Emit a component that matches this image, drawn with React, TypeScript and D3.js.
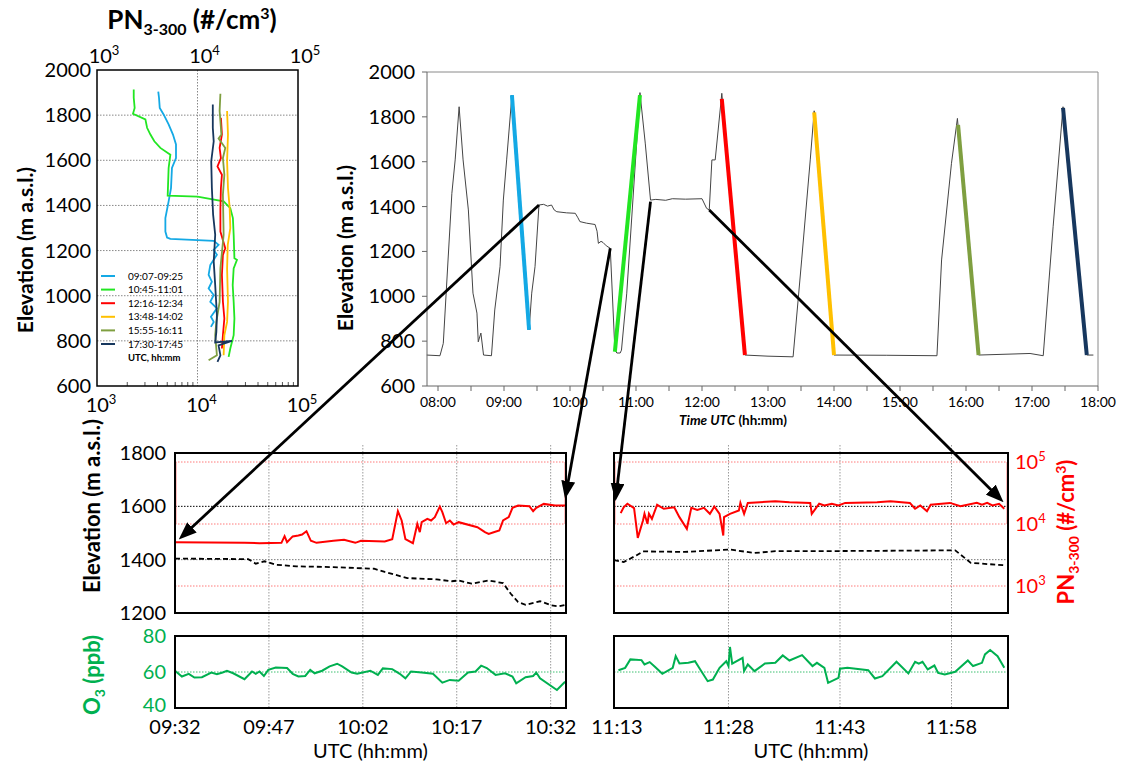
import React from "react";
import * as d3 from "d3";

const FONT = "Lato, 'Open Sans', sans-serif";

// ---------- top left: vertical PN profiles, [PN (#/cm3), elevation (m)] ----------
const profileLabels = ["09:07-09:25", "10:45-11:01", "12:16-12:34", "13:48-14:02", "15:55-16:11", "17:30-17:45"];
const profileColors = ["#14a9e5", "#22e622", "#ff0000", "#ffc000", "#7f9f40", "#17375e"];

const profile0907: [number, number][] = [
  [4070, 1904], [4140, 1877], [4210, 1832], [4600, 1803], [5160, 1759], [5700, 1714], [6110, 1670],
  [6110, 1610], [5570, 1566], [5450, 1477], [5160, 1418], [4790, 1344], [4790, 1284], [4980, 1258],
  [5370, 1252], [14500, 1243], [16200, 1225], [14500, 1203], [15600, 1181], [13400, 1136], [12900, 1092],
  [13900, 1062], [12900, 1032], [14500, 1003], [13400, 973], [15600, 944], [13600, 907], [14500, 884], [13600, 862],
];
const profile1045: [number, number][] = [
  [2320, 1914], [2320, 1877], [2370, 1832], [2280, 1806], [3030, 1781], [3150, 1744], [3400, 1714],
  [3720, 1684], [4270, 1655], [5370, 1625], [5160, 1566], [5050, 1443], [10000, 1439], [18200, 1418],
  [21200, 1388], [22500, 1344], [22900, 1270], [23300, 1166], [24700, 1159], [22900, 1121], [22400, 1047],
  [22900, 973], [23300, 899], [22900, 825], [21200, 766], [20400, 729],
];
const profile1216: [number, number][] = [
  [17100, 1788], [17500, 1714], [16600, 1655], [17100, 1610], [15800, 1573], [17500, 1536], [17100, 1477],
  [16900, 1388], [16900, 1284], [18900, 1210], [17900, 1181], [17500, 1092], [17900, 973], [18500, 899],
  [17900, 825], [17500, 766],
];
const profile1348: [number, number][] = [
  [19700, 1818], [20100, 1714], [19700, 1596], [20100, 1477], [20900, 1388], [21200, 1299], [20000, 1225],
  [19700, 1121], [20100, 973], [19700, 884], [18500, 825], [18200, 736],
];
const profile1555: [number, number][] = [
  [16900, 1895], [16600, 1818], [17300, 1714], [16200, 1696], [18900, 1655], [17900, 1610], [18500, 1536],
  [17900, 1447], [18200, 1270], [16900, 1121], [16600, 973], [15400, 884], [15000, 825], [15600, 736], [12900, 714],
];
const profile1730: [number, number][] = [
  [14200, 1847], [14200, 1744], [14500, 1684], [13700, 1596], [13900, 1477], [14300, 1359], [15000, 1270],
  [14500, 1151], [15000, 1047], [15600, 914], [15400, 840], [15000, 793], [22000, 800], [16200, 780],
  [16900, 736], [15800, 707],
];
const profiles = [profile0907, profile1045, profile1216, profile1348, profile1555, profile1730];
const profileElevTicks = [600, 800, 1000, 1200, 1400, 1600, 1800, 2000];
const profilePnExps = [3, 4, 5];

// ---------- top right: flight track, [hour UTC, elevation (m)] ----------
const flightTrack: [number, number][] = [
  [7.83, 738], [8.03, 735], [8.08, 790], [8.21, 1459], [8.26, 1608], [8.32, 1845], [8.38, 1608], [8.46, 1385],
  [8.53, 1014], [8.59, 925], [8.61, 797], [8.65, 836], [8.69, 738], [8.81, 735], [8.86, 939], [8.94, 1132],
  [8.99, 1429], [9.04, 1608], [9.12, 1897], [9.38, 850], [9.42, 1014], [9.47, 1132], [9.53, 1407], [9.6, 1410],
  [9.66, 1402], [9.72, 1407], [9.76, 1385], [9.8, 1377], [9.95, 1372], [10.08, 1370], [10.12, 1350],
  [10.15, 1333], [10.25, 1326], [10.38, 1320], [10.41, 1290], [10.43, 1236], [10.47, 1245], [10.5, 1240],
  [10.55, 1225], [10.61, 1214], [10.68, 760], [10.71, 747], [10.76, 747], [10.78, 760], [10.86, 1014],
  [11.06, 1908], [11.14, 1683], [11.22, 1429], [11.3, 1432], [11.45, 1428], [11.55, 1435], [11.75, 1433],
  [12.0, 1435], [12.07, 1392], [12.11, 1385], [12.15, 1608], [12.2, 1608], [12.3, 1905], [12.65, 738],
  [13.0, 733], [13.38, 730], [13.51, 1162], [13.64, 1608], [13.7, 1827], [14.0, 738], [14.8, 737],
  [15.56, 735], [15.63, 1162], [15.78, 1593], [15.87, 1793], [16.19, 738], [16.97, 745], [17.17, 735],
  [17.32, 1310], [17.47, 1845], [17.83, 738], [17.93, 738],
];
// coloured profile legs: [start hour, start elev, end hour, end elev]
const profileLegs: [number, number, number, number][] = [
  [9.12, 1897, 9.38, 850], [10.68, 753, 11.06, 1897], [12.3, 1880, 12.65, 738],
  [13.7, 1820, 14.0, 738], [15.88, 1764, 16.19, 738], [17.47, 1840, 17.83, 738],
];
const trackHourTicks = [8, 9, 10, 11, 12, 13, 14, 15, 16, 17, 18];
const trackElevTicks = [600, 800, 1000, 1200, 1400, 1600, 1800, 2000];

// ---------- bottom left window (minutes after 09:32) ----------
const leftTickMinutes = [0, 15, 30, 45, 60];
const leftTickLabels = ["09:32", "09:47", "10:02", "10:17", "10:32"];
const leftPN: [number, number][] = [
  [0, 5090], [11.1, 4970], [13.5, 4900], [17.0, 4970], [17.5, 6370], [17.9, 5090], [18.8, 6310], [19.7, 6530],
  [20.3, 6780], [21.0, 7660], [21.7, 5360], [22.6, 4970], [25.3, 5370], [27.0, 5560], [28.8, 4970], [29.7, 5360],
  [33.5, 5220], [34.7, 5700], [35.6, 16100], [36.2, 11400], [36.8, 5700], [38.0, 4900], [38.7, 10000],
  [39.1, 7380], [39.4, 10700], [40.3, 12100], [40.9, 11400], [41.5, 12900], [42.3, 19100], [42.7, 15500],
  [43.3, 10300], [43.9, 11400], [44.5, 9800], [45.3, 10700], [48.3, 8890], [49.5, 7380], [50.1, 6930],
  [50.9, 7380], [51.8, 7850], [52.4, 11400], [53.3, 12900], [53.9, 18200], [54.8, 19900], [56.6, 19400],
  [57.2, 16100], [57.7, 18200], [58.9, 21100], [60.7, 19900], [62.4, 19900],
];
const leftElev: [number, number][] = [
  [0, 1404], [11.7, 1402], [12.9, 1385], [14.3, 1394], [16.1, 1381], [19.4, 1375], [25.3, 1372], [31.8, 1366],
  [33.5, 1354], [37.1, 1331], [41.8, 1326], [44.2, 1319], [45.3, 1322], [47.4, 1310], [50.1, 1322],
  [52.4, 1312], [53.6, 1273], [54.8, 1241], [56.0, 1231], [58.3, 1244], [60.1, 1229], [61.3, 1225], [62.4, 1231],
];
const leftO3: [number, number][] = [
  [0, 60.7], [1.1, 57.5], [2.2, 59.0], [3.1, 56.9], [4.3, 57.1], [5.8, 59.7], [6.7, 58.8], [7.6, 59.7],
  [8.3, 60.7], [9.3, 59.3], [11.1, 56.0], [12.3, 60.3], [12.9, 59.0], [13.5, 60.3], [14.2, 57.8], [14.9, 61.2],
  [16.1, 62.5], [17.9, 62.2], [18.8, 59.0], [19.7, 57.5], [20.8, 57.8], [21.6, 61.2], [22.3, 59.3],
  [23.5, 60.7], [24.7, 63.1], [25.9, 64.6], [26.7, 63.1], [28.2, 59.7], [29.1, 59.0], [31.2, 60.7],
  [32.4, 58.4], [33.2, 62.0], [34.7, 61.6], [35.9, 59.0], [36.8, 56.5], [37.7, 60.3], [39.4, 59.7],
  [41.2, 59.0], [42.7, 54.1], [43.9, 55.6], [45.3, 55.2], [46.8, 59.7], [48.0, 60.3], [48.9, 63.5],
  [49.8, 62.2], [51.2, 58.4], [52.7, 59.3], [53.9, 57.5], [54.5, 53.7], [56.0, 57.1], [57.2, 57.8],
  [57.7, 59.7], [58.3, 56.5], [61.0, 50.0], [62.3, 54.6],
];

// ---------- bottom right window (minutes after 11:13) ----------
const rightTickMinutes = [0, 15, 30, 45];
const rightTickLabels = ["11:13", "11:28", "11:43", "11:58"];
const rightPN: [number, number][] = [
  [0.5, 15000], [0.9, 18600], [1.4, 21200], [2.3, 18000], [2.8, 5980], [3.5, 11400], [3.7, 14600],
  [4.1, 10100], [4.3, 14600], [4.7, 12100], [5.4, 20400], [6.3, 17600], [7.7, 18600], [8.4, 12900],
  [9.4, 8360], [10.0, 18200], [10.8, 16900], [11.7, 18200], [12.5, 14600], [13.1, 19100], [13.8, 14600],
  [14.3, 6530], [14.4, 12900], [15.2, 14600], [16.4, 16500], [16.6, 21900], [17.1, 14600], [17.6, 21900],
  [21.3, 23300], [23.2, 22500], [26.0, 21900], [26.2, 14600], [27.2, 21200], [27.9, 19900], [28.9, 21200],
  [29.8, 19900], [30.7, 21900], [35.0, 22500], [36.8, 23300], [39.4, 21900], [40.1, 17600], [40.8, 19900],
  [41.7, 16100], [42.2, 20400], [44.8, 21900], [46.2, 19400], [48.4, 21900], [49.1, 20400], [49.8, 21900],
  [50.5, 19900], [51.4, 21200], [52.1, 17600],
];
const rightElev: [number, number][] = [
  [-0.4, 1398], [0.9, 1391], [2.6, 1416], [3.5, 1431], [9.1, 1429], [15.2, 1438], [18.5, 1425],
  [21.3, 1432], [27.9, 1432], [45.5, 1435], [47.6, 1388], [52.1, 1379],
];
const rightO3: [number, number][] = [
  [0.2, 61.0], [1.1, 62.3], [1.8, 67.0], [3.3, 66.6], [3.7, 64.2], [4.4, 65.5], [5.1, 62.9], [6.1, 59.0],
  [7.5, 62.3], [7.9, 68.8], [8.4, 64.7], [9.6, 65.1], [10.5, 66.0], [11.2, 61.4], [12.2, 54.9], [12.9, 55.8],
  [13.8, 62.3], [14.7, 66.0], [15.0, 63.3], [15.2, 73.9], [15.5, 64.6], [16.9, 67.9], [17.1, 60.5],
  [17.6, 64.2], [18.5, 60.5], [19.9, 64.7], [21.3, 65.1], [22.3, 69.2], [23.2, 66.4], [24.9, 69.4],
  [26.3, 63.3], [26.9, 65.1], [27.9, 62.3], [28.4, 54.0], [29.8, 56.7], [30.0, 61.8], [31.0, 62.3],
  [33.8, 61.0], [34.7, 56.4], [35.7, 57.7], [37.6, 65.7], [39.2, 59.2], [40.1, 65.7], [40.6, 64.7],
  [41.1, 65.7], [41.8, 61.4], [42.7, 63.6], [43.2, 59.5], [44.1, 58.6], [45.5, 60.1], [47.2, 66.4],
  [47.9, 63.3], [49.1, 65.1], [49.5, 69.8], [50.2, 72.2], [51.2, 68.8], [52.1, 62.3],
];

const windowElevTicks = [1200, 1400, 1600, 1800];
const windowPnExps = [3, 4, 5];
const o3Ticks = [40, 60, 80];

// zoom arrows: track point [hour, elev] -> window point [minute, PN]
const zoomArrows: { from: [number, number]; side: "left" | "right"; to: [number, number] }[] = [
  { from: [9.53, 1407], side: "left", to: [0.6, 5620] },
  { from: [10.61, 1214], side: "left", to: [62.3, 25300] },
  { from: [11.22, 1422], side: "right", to: [-0.2, 23400] },
  { from: [12.11, 1385], side: "right", to: [52.0, 22400] },
];

const hhmm = (h: number) => `${String(Math.floor(h)).padStart(2, "0")}:00`;

const Pow = ({ e, sup = 13, shift = 8 }: { e: number; sup?: number; shift?: number }) => (
  <>
    10<tspan fontSize={sup} dy={-shift}>{e}</tspan>
  </>
);

export default function App() {
  // panel A
  const ax = d3.scaleLog().domain([1e3, 1e5]).range([97, 298]);
  const ay = d3.scaleLinear().domain([600, 2000]).range([386, 70]);
  const profLine = d3.line<[number, number]>().x(d => ax(d[0])).y(d => ay(d[1]));
  const minorA: number[] = [];
  [1e3, 1e4].forEach(b => { for (let k = 2; k <= 9; k++) minorA.push(b * k); });

  // panel B
  const bx = d3.scaleLinear().domain([7.8333, 18]).range([427, 1098]);
  const by = d3.scaleLinear().domain([600, 2000]).range([386, 72]);
  const trackLine = d3.line<[number, number]>().x(d => bx(d[0])).y(d => by(d[1]));
  const halfHours = d3.range(8, 18.01, 0.5);

  // bottom windows
  const cx = d3.scaleLinear().domain([0, 62.45]).range([175, 566]);
  const dx = d3.scaleLinear().domain([-0.4, 52.6]).range([614, 1008]);
  const elevY = d3.scaleLinear().domain([1200, 1800]).range([613, 453]);
  const pnY = d3.scaleLog().domain([1e3, 1e5]).range([586, 462]);
  const o3Y = d3.scaleLinear().domain([40, 80]).range([708, 636]);

  const windowPanel = (
    key: string,
    x: d3.ScaleLinear<number, number>,
    ticks: number[],
    labels: string[],
    pn: [number, number][],
    elev: [number, number][],
    o3: [number, number][]
  ) => {
    const [x0, x1] = x.range();
    const pnLine = d3.line<[number, number]>().x(d => x(d[0])).y(d => pnY(d[1]));
    const elLine = d3.line<[number, number]>().x(d => x(d[0])).y(d => elevY(d[1]));
    const o3Line = d3.line<[number, number]>().x(d => x(d[0])).y(d => o3Y(d[1]));
    const mid = (x0 + x1) / 2;
    return (
      <g key={key}>
        {ticks.filter(t => x(t) > x0 + 3).map(t => (
          <line key={t} x1={x(t)} x2={x(t)} y1={445} y2={708} stroke="#9a9a9a" strokeDasharray="1.5 1.5" />
        ))}
        {windowPnExps.map(e => (
          <line key={e} x1={x0} x2={x1} y1={pnY(10 ** e)} y2={pnY(10 ** e)} stroke="#ff7a7a" strokeDasharray="1.5 1.5" />
        ))}
        <line x1={x0 + 1} x2={x0 + 1} y1={pnY(1e5)} y2={pnY(1e4)} stroke="#ff8080" />
        <line x1={x1 - 1} x2={x1 - 1} y1={pnY(1e5)} y2={pnY(1e4)} stroke="#ff8080" />
        <line x1={x0} x2={x1} y1={elevY(1600)} y2={elevY(1600)} stroke="#000" strokeDasharray="1.5 1.5" />
        <line x1={x0} x2={x1} y1={elevY(1400)} y2={elevY(1400)} stroke="#777" strokeDasharray="1.5 1.5" />
        <path d={elLine(elev) ?? ""} fill="none" stroke="#000" strokeWidth={1.8} strokeDasharray="5 3" />
        <path d={pnLine(pn) ?? ""} fill="none" stroke="#ff0000" strokeWidth={2} />
        <rect x={x0} y={453} width={x1 - x0} height={160} fill="none" stroke="#000" strokeWidth={2} />
        <line x1={x0} x2={x1} y1={o3Y(60)} y2={o3Y(60)} stroke="#3cc070" strokeDasharray="1.5 1.5" />
        <path d={o3Line(o3) ?? ""} fill="none" stroke="#00b050" strokeWidth={2} />
        <rect x={x0} y={636} width={x1 - x0} height={72} fill="none" stroke="#000" strokeWidth={2} />
        {ticks.map((t, i) => (
          <text key={t} x={x(t)} y={734} fontSize={20} textAnchor="middle">{labels[i]}</text>
        ))}
        <text x={mid} y={758} fontSize={20} textAnchor="middle">UTC (hh:mm)</text>
      </g>
    );
  };

  const arrowEnd = (a: typeof zoomArrows[number]) => {
    const x = a.side === "left" ? cx : dx;
    return [x(a.to[0]), pnY(a.to[1])];
  };

  return (
    <svg width={1127} height={771} fontFamily={FONT}
      style={{ position: "absolute", left: 0, top: 0, background: "#fff" }}>
      <defs>
        <marker id="head" viewBox="0 0 10 10" refX={10} refY={5} markerWidth={18} markerHeight={14}
          markerUnits="userSpaceOnUse" orient="auto" preserveAspectRatio="none">
          <path d="M0,0 L10,5 L0,10 z" fill="#000" />
        </marker>
      </defs>

      {/* ---------- panel A: profiles ---------- */}
      <text x={192} y={29} fontSize={26} fontWeight="bold" textAnchor="middle">
        PN<tspan fontSize={16} dy={6}>3-300</tspan><tspan dy={-6}> (#/cm</tspan>
        <tspan fontSize={16} dy={-10}>3</tspan><tspan dy={10}>)</tspan>
      </text>
      {profileElevTicks.filter(v => v > 600 && v < 2000).map(v => (
        <line key={v} x1={97} x2={298} y1={ay(v)} y2={ay(v)} stroke="#888" strokeDasharray="1.5 1.5" />
      ))}
      <line x1={ax(1e4)} x2={ax(1e4)} y1={70} y2={386} stroke="#888" strokeDasharray="1.5 1.5" />
      {minorA.map(v => (
        <line key={v} x1={ax(v)} x2={ax(v)} y1={386} y2={382} stroke="#555" />
      ))}
      {profiles.map((p, i) => (
        <path key={i} d={profLine(p) ?? ""} fill="none" stroke={profileColors[i]} strokeWidth={1.8} />
      ))}
      <rect x={97} y={70} width={201} height={316} fill="none" stroke="#000" strokeWidth={1.5} />
      {profileElevTicks.map(v => (
        <text key={v} x={91} y={ay(v) + 7} fontSize={20} textAnchor="end">{v}</text>
      ))}
      {profilePnExps.map(e => (
        <text key={"t" + e} x={ax(10 ** e) + 7} y={63} fontSize={20} textAnchor="middle"><Pow e={e} /></text>
      ))}
      {profilePnExps.map(e => (
        <text key={"b" + e} x={ax(10 ** e) + 4} y={412} fontSize={20} textAnchor="middle"><Pow e={e} /></text>
      ))}
      <text transform="translate(25,250) rotate(-90)" y={8} fontSize={21} fontWeight="bold" textAnchor="middle">
        Elevation (m a.s.l.)
      </text>
      {profileLabels.map((l, i) => (
        <g key={l}>
          <line x1={101} x2={115} y1={276 + i * 13.6} y2={276 + i * 13.6} stroke={profileColors[i]} strokeWidth={2} />
          <text x={128} y={279.5 + i * 13.6} fontSize={10}>{l}</text>
        </g>
      ))}
      <text x={128} y={279.5 + 6 * 13.6} fontSize={9.5} fontWeight="bold">UTC, hh:mm</text>

      {/* ---------- panel B: flight track ---------- */}
      <path d={trackLine(flightTrack) ?? ""} fill="none" stroke="#444" strokeWidth={1} />
      {profileLegs.map((l, i) => (
        <line key={i} x1={bx(l[0])} y1={by(l[1])} x2={bx(l[2])} y2={by(l[3])}
          stroke={profileColors[i]} strokeWidth={4} />
      ))}
      <line x1={427} x2={1098} y1={72} y2={72} stroke="#8a8a8a" />
      <line x1={1098} x2={1098} y1={72} y2={386} stroke="#8a8a8a" />
      <line x1={427} x2={427} y1={72} y2={386} stroke="#666" />
      <line x1={427} x2={1098} y1={386} y2={386} stroke="#666" />
      {halfHours.map(h => (
        <line key={h} x1={bx(h)} x2={bx(h)} y1={386} y2={391} stroke="#666" />
      ))}
      {trackElevTicks.map(v => (
        <g key={v}>
          <line x1={422} x2={427} y1={by(v)} y2={by(v)} stroke="#666" />
          <text x={415} y={by(v) + 7} fontSize={20} textAnchor="end">{v}</text>
        </g>
      ))}
      {trackHourTicks.map(h => (
        <text key={h} x={bx(h)} y={407} fontSize={14} textAnchor="middle">{hhmm(h)}</text>
      ))}
      <text x={733} y={425} fontSize={13.5} fontWeight="bold" textAnchor="middle">
        <tspan fontStyle="italic">Time UTC</tspan> (hh:mm)
      </text>
      <text transform="translate(345,248) rotate(-90)" y={8} fontSize={21} fontWeight="bold" textAnchor="middle">
        Elevation (m a.s.l.)
      </text>

      {/* ---------- bottom windows ---------- */}
      {windowPanel("L", cx, leftTickMinutes, leftTickLabels, leftPN, leftElev, leftO3)}
      {windowPanel("R", dx, rightTickMinutes, rightTickLabels, rightPN, rightElev, rightO3)}
      {windowElevTicks.map(v => (
        <text key={v} x={166} y={elevY(v) + 7} fontSize={20} textAnchor="end">{v}</text>
      ))}
      {o3Ticks.map(v => (
        <text key={v} x={166} y={o3Y(v) + (v === 40 ? 4 : 7)} fontSize={20} textAnchor="end" fill="#00b050">{v}</text>
      ))}
      {windowPnExps.map(e => (
        <text key={e} x={1015} y={pnY(10 ** e) + 7} fontSize={20} fill="#ff0000"><Pow e={e} /></text>
      ))}
      <text transform="translate(92,506) rotate(-90)" y={8} fontSize={22} fontWeight="bold" textAnchor="middle">
        Elevation (m a.s.l.)
      </text>
      <text transform="translate(92,675) rotate(-90)" y={8} fontSize={22} fontWeight="bold" textAnchor="middle" fill="#00b050">
        O<tspan fontSize={14} dy={5}>3</tspan><tspan dy={-5}> (ppb)</tspan>
      </text>
      <text transform="translate(1066,532) rotate(-90)" y={8} fontSize={22} fontWeight="bold" textAnchor="middle" fill="#ff0000">
        PN<tspan fontSize={14} dy={5}>3-300</tspan><tspan dy={-5}> (#/cm</tspan>
        <tspan fontSize={14} dy={-8}>3</tspan><tspan dy={8}>)</tspan>
      </text>

      {/* ---------- zoom arrows ---------- */}
      {zoomArrows.map((a, i) => {
        const [tx, ty] = arrowEnd(a);
        const sx = bx(a.from[0]);
        const sy = by(a.from[1]);
        const len = Math.hypot(tx - sx, ty - sy);
        const ex = tx - ((tx - sx) / len) * 6;
        const ey = ty - ((ty - sy) / len) * 6;
        return (
          <g key={i}>
            <line x1={sx} y1={sy} x2={ex} y2={ey} stroke="#000" strokeWidth={2.8} />
            <path d={`M${ex},${ey}L${tx},${ty}`} stroke="none" fill="none" markerEnd="url(#head)" />
          </g>
        );
      })}
    </svg>
  );
}
